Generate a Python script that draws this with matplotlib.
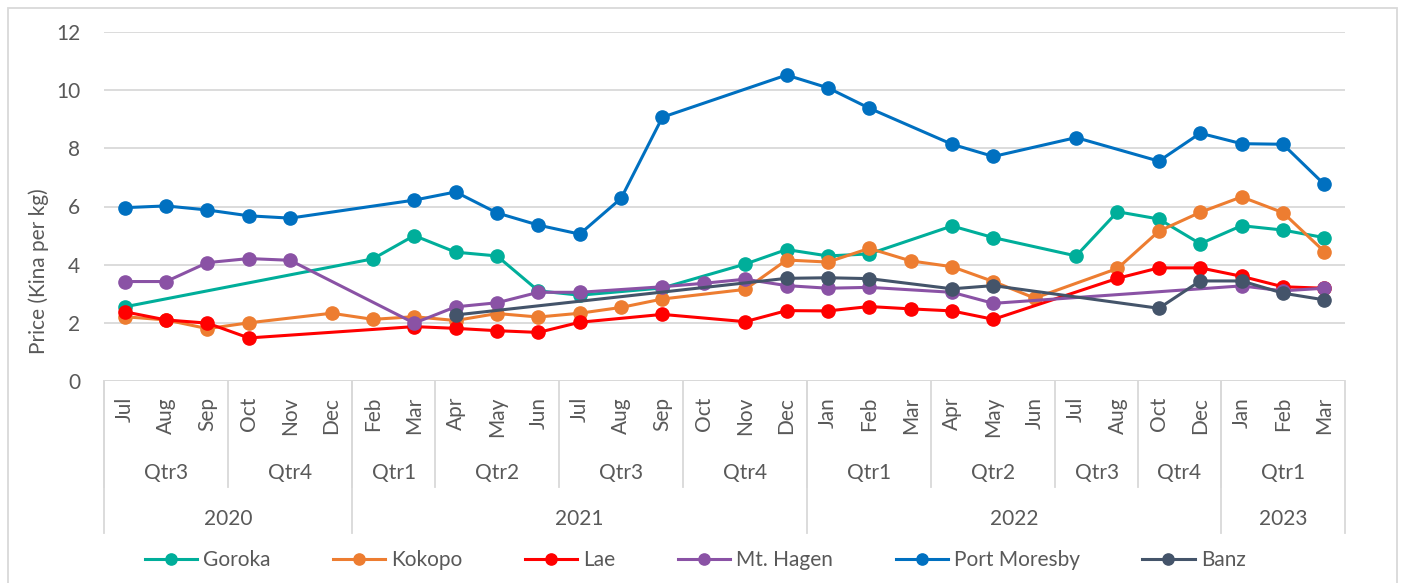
import numpy as np
import matplotlib
matplotlib.use("Agg")
import matplotlib.pyplot as plt
import matplotlib.transforms as mtransforms
from matplotlib.patches import Rectangle

plt.rcParams['font.family'] = ['Lato', 'DejaVu Sans']

# category axis: month / quarter / year
months = ['Jul', 'Aug', 'Sep', 'Oct', 'Nov', 'Dec',
          'Feb', 'Mar', 'Apr', 'May', 'Jun', 'Jul', 'Aug', 'Sep', 'Oct', 'Nov', 'Dec',
          'Jan', 'Feb', 'Mar', 'Apr', 'May', 'Jun', 'Jul', 'Aug', 'Oct', 'Dec',
          'Jan', 'Feb', 'Mar']
quarters = ['Qtr3', 'Qtr4', 'Qtr1', 'Qtr2', 'Qtr3', 'Qtr4', 'Qtr1', 'Qtr2', 'Qtr3', 'Qtr4', 'Qtr1']
quarter_sizes = [3, 3, 2, 3, 3, 3, 3, 3, 2, 2, 3]
years = ['2020', '2021', '2022', '2023']
year_sizes = [6, 11, 10, 3]

N = None
goroka = [2.55, N, N, N, N, N, 4.2, 5.0, 4.43, 4.3, 3.1, 2.95, N, 3.2, N, 4.02, 4.52,
          4.3, 4.37, N, 5.33, 4.93, N, 4.3, 5.82, 5.57, 4.72, 5.34, 5.19, 4.93]
kokopo = [2.21, 2.1, 1.8, 2.0, N, 2.33, 2.12, 2.21, 2.08, 2.32, 2.2, 2.33, 2.53, 2.82, N, 3.15, 4.16,
          4.09, 4.56, 4.13, 3.93, 3.42, 2.85, N, 3.87, 5.15, 5.8, 6.33, 5.79, 4.45]
lae = [2.38, 2.1, 1.99, 1.48, N, N, N, 1.87, 1.81, 1.73, 1.67, 2.02, N, 2.29, N, 2.04, 2.42,
       2.41, 2.56, 2.48, 2.41, 2.12, N, N, 3.53, 3.89, 3.89, 3.6, 3.24, 3.19]
mt_hagen = [3.42, 3.42, 4.07, 4.21, 4.15, N, N, 1.99, 2.55, 2.69, 3.05, 3.05, N, 3.24, 3.36, 3.5, 3.28,
            3.19, 3.22, N, 3.05, 2.67, N, N, N, N, N, 3.27, 3.1, 3.19]
port_moresby = [5.96, 6.02, 5.88, 5.68, 5.6, N, N, 6.22, 6.5, 5.78, 5.36, 5.05, 6.28, 9.07, N, N, 10.52,
                10.08, 9.38, N, 8.14, 7.72, N, 8.37, N, 7.56, 8.52, 8.16, 8.14, 6.76]
banz = [N, N, N, N, N, N, N, N, 2.27, N, N, N, N, N, N, N, 3.53,
        3.55, 3.52, N, 3.17, 3.28, N, N, N, 2.5, 3.44, 3.44, 3.02, 2.79]

series = [('Goroka', goroka, '#00AE9A'),
          ('Kokopo', kokopo, '#ED7D31'),
          ('Lae', lae, '#FF0000'),
          ('Mt. Hagen', mt_hagen, '#8A52A5'),
          ('Port Moresby', port_moresby, '#0070C0'),
          ('Banz', banz, '#44546A')]

W, H = 1401, 583
fig = plt.figure(figsize=(W / 100, H / 100), dpi=100)
ax = fig.add_axes([104 / W, (H - 381) / H, (1345 - 104) / W, (381 - 32) / H])

txt = '#595959'
grid = '#D9D9D9'
fs = 15

x = np.arange(len(months))
for name, vals, col in series:
    v = np.array([np.nan if a is None else a for a in vals], dtype=float)
    ok = ~np.isnan(v)
    ax.plot(x[ok], v[ok], color=col, lw=2.2, marker='o', ms=9.5, label=name)

ax.set_xlim(-0.5, len(months) - 0.5)
ax.set_ylim(0, 12)
ax.set_yticks(range(0, 13, 2))
ax.set_xticks([])
ax.tick_params(axis='y', length=0, pad=17, labelsize=fs, labelcolor=txt)
for s in ax.spines.values():
    s.set_visible(False)
ax.grid(axis='y', color=grid, lw=1.3)
ax.set_axisbelow(True)
ax.axhline(0, color=grid, lw=1.3, zorder=1)

# multi-level category labels
tr = mtransforms.blended_transform_factory(ax.transData, ax.transAxes)
for i, m in enumerate(months):
    ax.text(i, -0.046, m, transform=tr, rotation=90, ha='center', va='top',
            fontsize=fs, color=txt)

q_bottom = -0.304
y_bottom = -0.436
start = -0.5
for q, n in zip(quarters, quarter_sizes):
    ax.text(start + n / 2, -0.264, q, transform=tr, ha='center', va='center',
            fontsize=fs, color=txt)
    ax.plot([start, start], [0, q_bottom], transform=tr, color=grid, lw=1.3, clip_on=False)
    start += n
start = -0.5
for yr, n in zip(years, year_sizes):
    ax.text(start + n / 2, -0.395, yr, transform=tr, ha='center', va='center',
            fontsize=fs, color=txt)
    ax.plot([start, start], [0, y_bottom], transform=tr, color=grid, lw=1.3, clip_on=False)
    start += n
ax.plot([start, start], [0, y_bottom], transform=tr, color=grid, lw=1.3, clip_on=False)

fig.text(39 / W, 1 - 271 / H, 'Price (Kina per kg)', rotation=90, ha='center', va='center',
         fontsize=fs, color=txt)

fig.legend(loc='center', bbox_to_anchor=(695 / W, 1 - 560 / H), ncol=6, frameon=False,
           fontsize=fs, labelcolor=txt, handlelength=2.5, handletextpad=0.3,
           columnspacing=3.0, markerscale=0.85)

fig.patches.append(Rectangle((8 / W, -0.01), (1397 - 8) / W, 1.01 - 8 / H,
                             transform=fig.transFigure, fill=False, edgecolor=grid, lw=1.3))

fig.savefig('out.png', dpi=100)
